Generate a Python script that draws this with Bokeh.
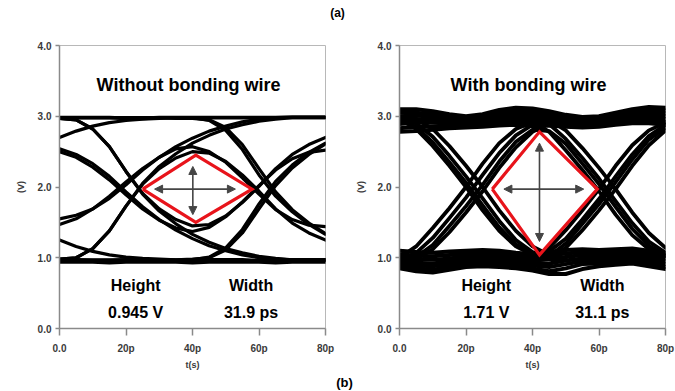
from bokeh.plotting import figure
from bokeh.layouts import column, row
from bokeh.models import Range1d, Label, Arrow, NormalHead, FixedTicker
from bokeh.embed import file_html
from bokeh.resources import INLINE

# ---------------- data ----------------
x_tick_vals = [0, 20, 40, 60, 80]
x_tick_labels = ["0.0", "20p", "40p", "60p", "80p"]
y_tick_vals = [0, 1, 2, 3, 4]
y_tick_labels = ["0.0", "1.0", "2.0", "3.0", "4.0"]

t_full = [0, 5, 10, 15, 20, 25, 30, 35, 40, 45, 50, 55, 60, 65, 70, 75, 80]
t_early = [0, 5, 10, 15, 20, 25, 30, 35, 40, 45, 50]
t_late = [40, 45, 50, 55, 60, 65, 70, 75, 80]

# Left eye (without bonding wire), volts at t_full
L_rail_hi = [2.98, 2.98, 2.98, 2.98, 2.97, 2.97, 2.98, 2.98, 2.98, 2.98, 2.98, 2.98, 2.98, 2.98, 2.99, 2.99, 2.99]
L_rail_lo = [0.97, 0.97, 0.96, 0.96, 0.97, 0.97, 0.97, 0.96, 0.96, 0.97, 0.97, 0.97, 0.96, 0.96, 0.97, 0.97, 0.97]
L_rail_lo2 = [0.94, 0.94, 0.94, 0.93, 0.94, 0.94, 0.94, 0.94, 0.93, 0.94, 0.94, 0.94, 0.94, 0.93, 0.94, 0.94, 0.94]
L_fall_long = [2.97, 2.95, 2.82, 2.57, 2.22, 1.90, 1.66, 1.48, 1.33, 1.22, 1.13, 1.07, 1.02, 0.99, 0.97, 0.97, 0.97]
L_rise_long = [0.98, 1.00, 1.13, 1.38, 1.73, 2.05, 2.29, 2.47, 2.62, 2.73, 2.82, 2.88, 2.93, 2.96, 2.98, 2.98, 2.98]
L_fall_late = [2.98, 2.98, 2.98, 2.98, 2.98, 2.98, 2.98, 2.97, 2.97, 2.95, 2.84, 2.60, 2.26, 1.93, 1.68, 1.49, 1.34]
L_rise_late = [0.97, 0.97, 0.97, 0.97, 0.97, 0.97, 0.97, 0.97, 0.98, 1.00, 1.11, 1.35, 1.69, 2.02, 2.27, 2.46, 2.61]
L_arc_up_a = [0.98, 1.00, 1.13, 1.38, 1.73, 2.04, 2.26, 2.41, 2.50, 2.48, 2.36, 2.17, 1.94, 1.69, 1.49, 1.35, 1.25]
L_arc_dn_a = [2.97, 2.95, 2.82, 2.57, 2.22, 1.91, 1.69, 1.54, 1.45, 1.47, 1.59, 1.78, 2.01, 2.26, 2.46, 2.60, 2.70]
L_arc_up_b = [1.47, 1.55, 1.69, 1.87, 2.07, 2.26, 2.42, 2.54, 2.57, 2.50, 2.35, 2.13, 1.90, 1.68, 1.54, 1.46, 1.44]
L_arc_dn_b = [2.50, 2.42, 2.28, 2.10, 1.89, 1.69, 1.53, 1.42, 1.37, 1.43, 1.58, 1.79, 2.02, 2.24, 2.40, 2.49, 2.52]
L_fall_mid = [2.54, 2.46, 2.33, 2.15, 1.93, 1.72, 1.54, 1.39, 1.27, 1.17, 1.10, 1.04, 1.00, 0.98, 0.97, 0.97, 0.97]
L_rise_mid = [1.55, 1.60, 1.69, 1.84, 2.03, 2.24, 2.42, 2.57, 2.69, 2.79, 2.86, 2.92, 2.96, 2.98, 2.98, 2.98, 2.98]
L_tail_hi = [2.70, 2.79, 2.86, 2.91, 2.94, 2.96, 2.97, 2.98, 2.98, 2.94, 2.80, 2.53, 2.17, 1.87, 1.65, 1.47, 1.33]
L_tail_lo = [1.25, 1.16, 1.09, 1.04, 1.01, 0.99, 0.98, 0.97, 0.97, 1.01, 1.14, 1.40, 1.76, 2.08, 2.31, 2.49, 2.62]

# Right eye (with bonding wire): thick top and bottom bands
R_band_hi_1 = [3.10, 3.10, 3.07, 3.03, 3.00, 3.03, 3.09, 3.12, 3.11, 3.07, 3.02, 2.99, 3.00, 3.05, 3.10, 3.13, 3.12]
R_band_hi_2 = [3.05, 3.05, 3.03, 2.99, 2.96, 2.99, 3.05, 3.08, 3.07, 3.03, 2.98, 2.96, 2.97, 3.02, 3.07, 3.09, 3.08]
R_band_hi_3 = [3.00, 3.01, 2.99, 2.95, 2.93, 2.96, 3.01, 3.04, 3.03, 2.99, 2.95, 2.93, 2.95, 2.99, 3.03, 3.05, 3.04]
R_band_hi_4 = [2.94, 2.96, 2.95, 2.92, 2.90, 2.93, 2.97, 3.00, 2.99, 2.96, 2.92, 2.90, 2.92, 2.96, 3.00, 3.01, 3.00]
R_band_hi_5 = [2.89, 2.91, 2.91, 2.89, 2.88, 2.90, 2.94, 2.96, 2.95, 2.92, 2.89, 2.87, 2.89, 2.93, 2.96, 2.97, 2.96]
R_band_hi_6 = [2.83, 2.85, 2.86, 2.86, 2.86, 2.87, 2.90, 2.92, 2.90, 2.89, 2.87, 2.85, 2.87, 2.90, 2.93, 2.93, 2.92]
R_band_hi_7 = [2.78, 2.79, 2.81, 2.83, 2.84, 2.85, 2.87, 2.88, 2.86, 2.87, 2.85, 2.84, 2.85, 2.88, 2.90, 2.90, 2.88]
R_band_lo_1 = [1.10, 1.08, 1.07, 1.09, 1.10, 1.11, 1.10, 1.07, 1.05, 1.08, 1.11, 1.12, 1.11, 1.12, 1.13, 1.10, 1.07]
R_band_lo_2 = [1.05, 1.03, 1.02, 1.04, 1.06, 1.07, 1.06, 1.03, 1.01, 1.03, 1.06, 1.08, 1.07, 1.08, 1.09, 1.06, 1.03]
R_band_lo_3 = [1.00, 0.98, 0.97, 0.99, 1.02, 1.03, 1.02, 0.99, 0.97, 0.98, 1.01, 1.04, 1.03, 1.04, 1.05, 1.02, 0.99]
R_band_lo_4 = [0.96, 0.93, 0.92, 0.95, 0.98, 0.99, 0.98, 0.95, 0.93, 0.92, 0.96, 0.99, 0.99, 1.00, 1.01, 0.98, 0.95]
R_band_lo_5 = [0.92, 0.89, 0.88, 0.91, 0.94, 0.95, 0.94, 0.91, 0.89, 0.87, 0.91, 0.95, 0.95, 0.97, 0.98, 0.94, 0.91]
R_band_lo_6 = [0.88, 0.85, 0.83, 0.87, 0.90, 0.91, 0.90, 0.88, 0.85, 0.81, 0.85, 0.91, 0.92, 0.94, 0.95, 0.91, 0.87]
R_band_lo_7 = [0.85, 0.81, 0.79, 0.83, 0.87, 0.88, 0.87, 0.85, 0.82, 0.77, 0.77, 0.84, 0.88, 0.90, 0.92, 0.88, 0.84]
# strands through the left crossing (t_early)
R_rise_a = [1.00, 1.16, 1.42, 1.70, 2.00, 2.33, 2.62, 2.82, 2.92, 2.97, 2.99]
R_rise_b = [0.97, 1.07, 1.28, 1.56, 1.85, 2.17, 2.48, 2.73, 2.88, 2.95, 2.98]
R_rise_c = [0.95, 0.98, 1.12, 1.36, 1.64, 1.94, 2.27, 2.56, 2.78, 2.90, 2.96]
R_fall_a = [2.96, 2.82, 2.58, 2.30, 2.00, 1.67, 1.38, 1.16, 1.04, 0.98, 0.96]
R_fall_b = [2.98, 2.90, 2.71, 2.44, 2.15, 1.84, 1.52, 1.25, 1.08, 1.00, 0.97]
R_fall_c = [2.99, 2.96, 2.82, 2.58, 2.30, 2.00, 1.67, 1.38, 1.16, 1.04, 0.98]
# isolated-bit strands (t_full)
R_arc_up = [0.95, 1.01, 1.18, 1.45, 1.73, 2.03, 2.36, 2.64, 2.81, 2.79, 2.61, 2.33, 2.04, 1.72, 1.41, 1.17, 1.03]
R_arc_dn = [2.97, 2.85, 2.63, 2.35, 2.06, 1.74, 1.43, 1.19, 1.06, 1.09, 1.27, 1.54, 1.83, 2.15, 2.46, 2.72, 2.88]
# strands through the right crossing (t_late)
R_fall_d = [2.94, 2.78, 2.52, 2.24, 1.94, 1.61, 1.32, 1.12, 1.02]
R_fall_e = [2.98, 2.89, 2.68, 2.41, 2.12, 1.80, 1.49, 1.23, 1.07]
R_fall_f = [2.99, 2.95, 2.80, 2.55, 2.27, 1.97, 1.64, 1.35, 1.14]
R_rise_d = [0.99, 1.14, 1.39, 1.67, 1.97, 2.30, 2.59, 2.80, 2.91]
R_rise_e = [0.96, 1.02, 1.20, 1.48, 1.76, 2.07, 2.39, 2.67, 2.84]
R_rise_f = [0.95, 0.99, 1.14, 1.39, 1.67, 1.97, 2.30, 2.59, 2.80]

# eye-opening diamonds and arrows
left_eye_t = [25.0, 41.0, 57.9, 41.0, 25.0]
left_eye_v = [1.97, 2.45, 1.97, 1.50, 1.97]
right_eye_t = [27.9, 42.1, 59.5, 42.1, 27.9]
right_eye_v = [1.97, 2.78, 1.97, 1.04, 1.97]
left_h_arrow = [28.6, 52.9, 1.97]    # t_start, t_end, level
left_v_arrow = [2.29, 1.61, 40.1]    # v_start, v_end, time
right_h_arrow = [31.4, 55.4, 1.97]
right_v_arrow = [2.62, 1.23, 42.1]

panel_titles = ["Without bonding wire", "With bonding wire"]
metric_names = ["Height", "Width"]
left_metrics = ["0.945 V", "31.9 ps"]
right_metrics = ["1.71 V", "31.1 ps"]

FONT = "Liberation Sans"
ARROW_C = "#454545"


def make_panel(width, bl, br):
    p = figure(width=width, height=347, x_range=Range1d(0, 80), y_range=Range1d(0, 4),
               output_backend="svg", toolbar_location=None,
               min_border_left=bl, min_border_right=br, min_border_top=20, min_border_bottom=43)
    p.xgrid.visible = False
    p.ygrid.visible = False
    p.outline_line_color = "#b8b8b8"
    p.outline_line_width = 1
    p.background_fill_color = "white"
    p.border_fill_color = "white"
    p.xaxis.ticker = FixedTicker(ticks=x_tick_vals)
    p.xaxis.major_label_overrides = dict(zip(x_tick_vals, x_tick_labels))
    p.yaxis.ticker = FixedTicker(ticks=y_tick_vals)
    p.yaxis.major_label_overrides = dict(zip(y_tick_vals, y_tick_labels))
    for ax in (p.xaxis[0], p.yaxis[0]):
        ax.axis_line_color = "#8a8a8a"
        ax.axis_line_width = 1.5
        ax.major_tick_line_color = "#8a8a8a"
        ax.major_tick_line_width = 1.5
        ax.minor_tick_line_color = None
        ax.major_tick_in = 0
        ax.major_label_text_font = FONT
        ax.major_label_text_font_style = "bold"
        ax.major_label_text_font_size = "10px"
        ax.major_label_text_color = "#3a3a3a"
        ax.axis_label_text_font = FONT
        ax.axis_label_text_font_style = "bold"
        ax.axis_label_text_font_size = "9px"
        ax.axis_label_text_color = "#3a3a3a"
    p.xaxis.major_tick_out = 7
    p.xaxis.major_label_standoff = 7
    p.xaxis.axis_label = "t(s)"
    p.xaxis.axis_label_standoff = 3
    p.yaxis.major_tick_out = 4
    p.yaxis.major_label_standoff = 4
    p.yaxis.axis_label = "(V)"
    p.yaxis.axis_label_standoff = 9
    return p


def draw(p, t, v, w):
    p.line(t, v, line_color="black", line_width=w, line_join="round", line_cap="round")


def decorate(p, eye_t, eye_v, h_arr, v_arr, title, metrics, x_h, x_w):
    p.line(eye_t, eye_v, line_color="#e8141b", line_width=3.2, line_join="miter")
    p.add_layout(Arrow(x_start=h_arr[0], y_start=h_arr[2], x_end=h_arr[1], y_end=h_arr[2],
                       line_color=ARROW_C, line_width=1.6,
                       start=NormalHead(size=8, fill_color=ARROW_C, line_color=ARROW_C),
                       end=NormalHead(size=8, fill_color=ARROW_C, line_color=ARROW_C)))
    p.add_layout(Arrow(x_start=v_arr[2], y_start=v_arr[0], x_end=v_arr[2], y_end=v_arr[1],
                       line_color=ARROW_C, line_width=1.6,
                       start=NormalHead(size=8, fill_color=ARROW_C, line_color=ARROW_C),
                       end=NormalHead(size=8, fill_color=ARROW_C, line_color=ARROW_C)))
    p.add_layout(Label(x=40, y=3.44, text=title, text_align="center", text_baseline="middle",
                       text_font=FONT, text_font_style="bold", text_font_size="18px",
                       text_color="black", x_offset=-4))
    for xx, name, val in ((x_h, metric_names[0], metrics[0]), (x_w, metric_names[1], metrics[1])):
        p.add_layout(Label(x=xx, y=0.61, text=name, text_align="center", text_baseline="middle",
                           text_font=FONT, text_font_style="bold", text_font_size="16px",
                           text_color="black"))
        p.add_layout(Label(x=xx, y=0.23, text=val, text_align="center", text_baseline="middle",
                           text_font=FONT, text_font_style="bold", text_font_size="16px",
                           text_color="black"))


# ---------------- left panel ----------------
pl = make_panel(337, 59, 12)
for v in (L_rail_hi, L_rail_lo, L_rail_lo2):
    draw(pl, t_full, v, 3.6)
for v in (L_fall_long, L_rise_long, L_fall_late, L_rise_late, L_arc_up_a, L_arc_dn_a,
          L_arc_up_b, L_arc_dn_b, L_fall_mid, L_rise_mid, L_tail_hi, L_tail_lo):
    draw(pl, t_full, v, 3.2)
decorate(pl, left_eye_t, left_eye_v, left_h_arrow, left_v_arrow, panel_titles[0],
         left_metrics, 22.9, 57.6)

# ---------------- right panel ----------------
pr = make_panel(338, 62, 10)
for v in (R_band_hi_1, R_band_hi_2, R_band_hi_3, R_band_hi_4, R_band_hi_5, R_band_hi_6, R_band_hi_7,
          R_band_lo_1, R_band_lo_2, R_band_lo_3, R_band_lo_4, R_band_lo_5, R_band_lo_6, R_band_lo_7):
    draw(pr, t_full, v, 4.0)
for v in (R_rise_a, R_rise_b, R_rise_c, R_fall_a, R_fall_b, R_fall_c):
    draw(pr, t_early, v, 3.8)
for v in (R_arc_up, R_arc_dn):
    draw(pr, t_full, v, 3.8)
for v in (R_fall_d, R_fall_e, R_fall_f, R_rise_d, R_rise_e, R_rise_f):
    draw(pr, t_late, v, 3.8)
decorate(pr, right_eye_t, right_eye_v, right_h_arrow, right_v_arrow, panel_titles[1],
         right_metrics, 26.1, 61.0)


# ---------------- (a) / (b) captions ----------------
def caption(h, text, size, xs, ys):
    f = figure(width=675, height=h, x_range=Range1d(0, 675), y_range=Range1d(0, h),
               x_axis_type=None, y_axis_type=None, output_backend="svg",
               toolbar_location=None, min_border=0)
    f.grid.visible = False
    f.outline_line_color = None
    f.add_layout(Label(x=xs, y=ys, x_units="screen", y_units="screen", text=text,
                       text_align="center", text_baseline="middle", text_font=FONT,
                       text_font_style="bold", text_font_size=size, text_color="black"))
    return f


top = caption(25, "(a)", "12px", 337, 13)
bottom = caption(19, "(b)", "13px", 344, 9)

layout = column(top, row(pl, pr), bottom)
open("out.html", "w").write(file_html(layout, INLINE))
